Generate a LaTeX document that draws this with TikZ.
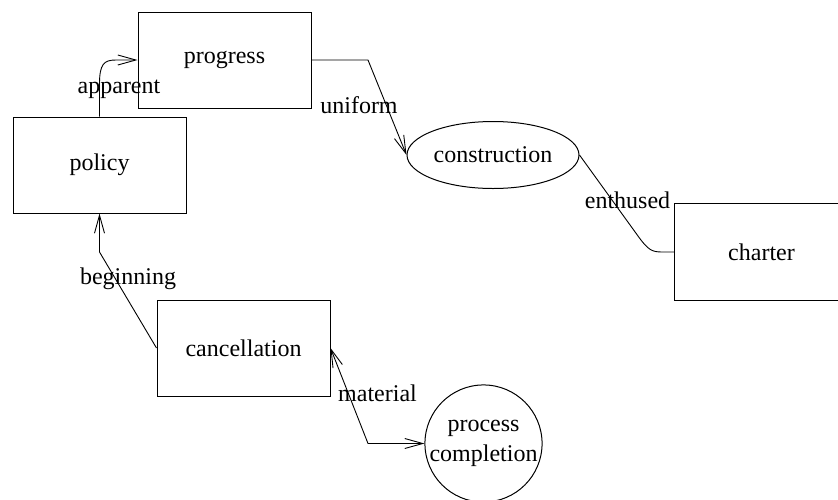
\documentclass[tikz,border=0pt]{standalone}
\usepackage{fontspec}
\setmainfont{Liberation Serif}
\usetikzlibrary{shapes.geometric,arrows.meta}
\begin{document}
\begin{tikzpicture}[x=1pt,y=-1pt,
  every node/.style={font=\fontsize{24}{30}\selectfont},
  box/.style={draw,line width=1pt,minimum width=173pt,minimum height=96pt,inner sep=0pt},
  openbox/.style={minimum width=173pt,minimum height=96pt,inner sep=0pt},
  oval/.style={draw,ellipse,line width=1pt,minimum width=172pt,minimum height=67pt,inner sep=0pt},
  round/.style={draw,circle,line width=1pt,minimum size=115pt,inner sep=0pt,align=center},
  lbl/.style={anchor=base,inner sep=0pt},
  conn/.style={line width=0.9pt},
  arr/.style={conn,-{Straight Barb[length=18pt,width=10pt]}},
  darr/.style={conn,{Straight Barb[length=18pt,width=10pt]}-{Straight Barb[length=18pt,width=10pt]}}]
\clip (0,0) rectangle (838,499);
\node[box] (progress) at (224.5,60) {progress};
\node[box] (policy) at (99.5,165) {policy};
\node[oval] (construction) at (493,155) {construction};
\node[openbox] (charter) at (761.5,252) {charter};
\draw[line width=1pt] (charter.north east) -- (charter.north west) -- (charter.south west) -- (charter.south east);
\node[box] (cancellation) at (243.5,348) {cancellation};
\node[round] (pc) at (483.5,443.5) {process\\completion};
% edges
\draw[arr] (policy.north) -- (99.5,84) .. controls (99.5,64) and (104,60) .. (116,60) -- (progress.west);
\draw[arr] (progress.east) -- (368,60) -- (construction.west);
\draw[conn] (construction.east) -- (638,236) .. controls (648,250) and (652,252) .. (662,252) -- (charter.west);
\draw[arr] (cancellation.west) -- (99.5,252) -- (policy.south);
\draw[darr] (cancellation.east) -- (368,443.5) -- (pc.west);
% labels
\node[lbl] (l1) at (119,93) {apparent};
\node[lbl] (l2) at (359,113) {uniform};
\node[lbl] (l3) at (627.5,208) {enthused};
\node[lbl] (l4) at (128,284) {beginning};
\node[lbl] (l5) at (377.5,401) {material};
\end{tikzpicture}
\end{document}
